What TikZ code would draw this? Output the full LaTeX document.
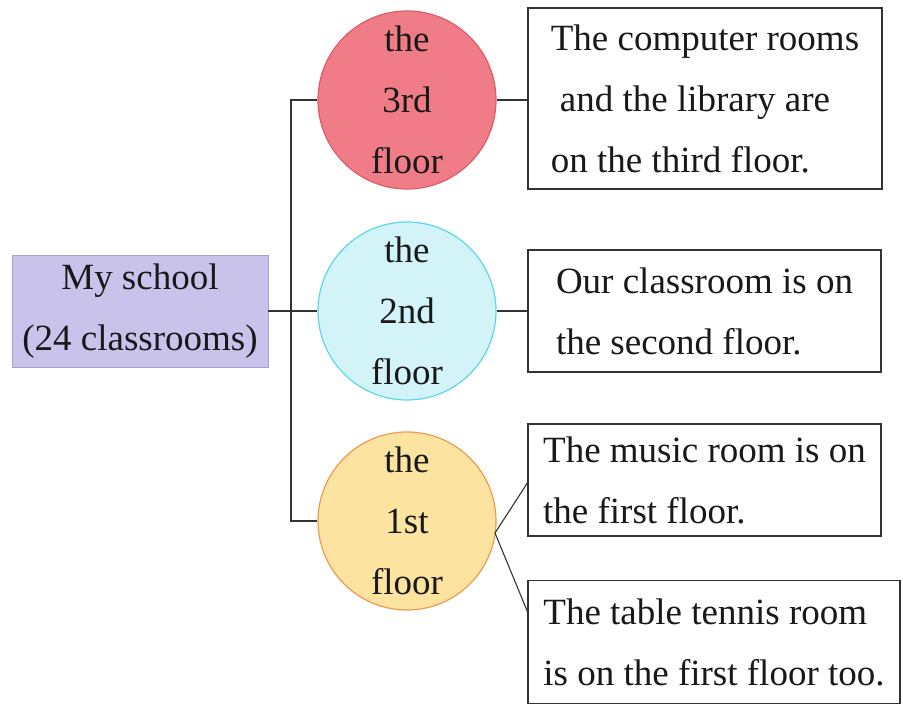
\documentclass[tikz,border=0pt]{standalone}
\usepackage{fontspec}
\setmainfont{Liberation Serif}
\definecolor{lav}{HTML}{C9C3EC}
\definecolor{lavb}{HTML}{A8A0D0}
\definecolor{redf}{HTML}{F07C87}
\definecolor{redb}{HTML}{E05A6A}
\definecolor{cyf}{HTML}{D2F4F8}
\definecolor{cyb}{HTML}{5ED6E6}
\definecolor{orf}{HTML}{FCE3A0}
\definecolor{orb}{HTML}{EE9A52}
\definecolor{ln}{HTML}{333333}
\begin{document}
\begin{tikzpicture}[x=1pt,y=-1pt,
  txt/.style={font=\fontsize{37}{61}\selectfont, text=black!90},
  floorc/.style={circle, minimum size=178pt, inner sep=0pt, line width=1.2pt, txt, align=center},
  infobox/.style={draw=ln, line width=1.2pt, fill=white, inner sep=0pt, txt},
  conn/.style={draw=ln, line width=1.1pt}]
\useasboundingbox (0,0) rectangle (903,708);
\node[fill=lav, draw=lavb, line width=0.8pt, minimum width=256pt, minimum height=112pt, inner sep=0pt, txt, align=center] (school) at (140,311) {My school\\(24 classrooms)};
\node[floorc, fill=redf, draw=redb] (f3) at (407,100) {the\\3rd\\floor};
\node[floorc, fill=cyf, draw=cyb] (f2) at (407,311) {the\\2nd\\floor};
\node[floorc, fill=orf, draw=orb] (f1) at (407,521) {the\\1st\\floor};
\node[infobox, minimum width=354pt, minimum height=181pt, align=left] (b3) at (705,98.5) {The computer rooms\\\hspace*{9pt}and the library are\\on the third floor.};
\node[infobox, minimum width=353pt, minimum height=122pt, align=left] (b2) at (704.5,311) {Our classroom is on\\the second floor.};
\node[infobox, minimum width=353pt, minimum height=112pt, align=left] (b1a) at (704.5,480) {The music room is on\\the first floor.};
\node[infobox, minimum width=372pt, minimum height=123pt, align=left] (b1b) at (714,642) {The table tennis room\\is on the first floor too.};
\coordinate (trunktop) at (291,100);
\coordinate (trunkbot) at (291,521);
\path[conn] (school.east) -- (f2.west);
\path[conn] (f3.west) -- (trunktop) -- (trunkbot) -- (f1.west);
\path[conn] (f3.east) -- (b3.west |- f3.east);
\path[conn] (f2.east) -- (b2.west);
\coordinate (f1e) at (495,533);
\path[conn] (f1e) -- (528,482);
\path[conn] (f1e) -- (528,613);
\end{tikzpicture}
\end{document}
